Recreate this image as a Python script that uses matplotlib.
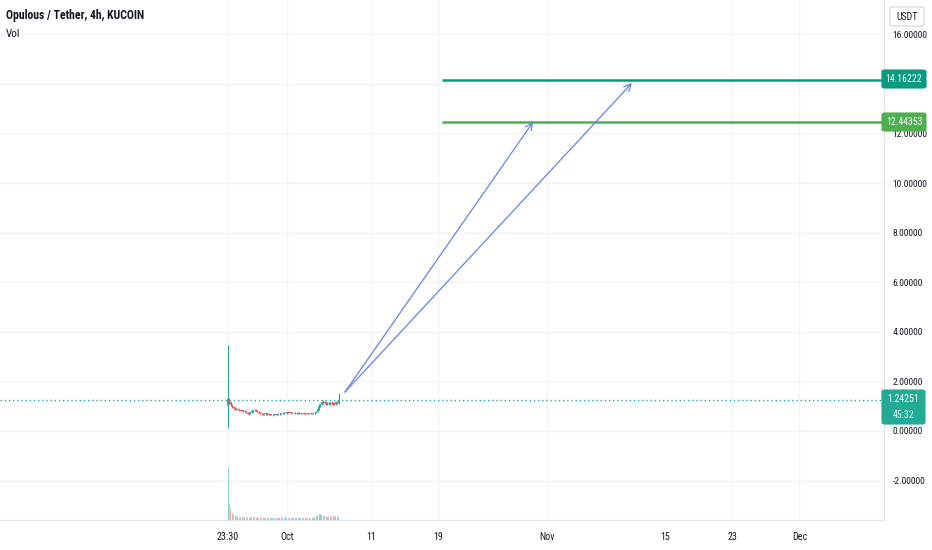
import datetime as dt
import matplotlib
matplotlib.use("Agg")
import matplotlib.pyplot as plt
import matplotlib.dates as mdates
from matplotlib import font_manager
from matplotlib.patches import FancyBboxPatch

# ---------------- data ----------------
start_time = dt.datetime(2021, 9, 23, 23, 30)
opens = [1.00, 1.30, 1.15, 1.05, 0.96, 0.92, 0.88, 0.90, 0.85, 0.84,
         0.81, 0.84, 0.80, 0.79, 0.74, 0.70, 0.72, 0.76, 0.80, 0.84,
         0.86, 0.82, 0.78, 0.74, 0.70, 0.67, 0.69, 0.68, 0.71, 0.67,
         0.66, 0.68, 0.65, 0.66, 0.67, 0.66, 0.69, 0.68, 0.70, 0.72,
         0.71, 0.74, 0.73, 0.76, 0.74, 0.75, 0.73, 0.74, 0.72, 0.73,
         0.71, 0.72, 0.70, 0.71, 0.72, 0.70, 0.72, 0.71, 0.70, 0.72,
         0.71, 0.73, 0.72, 0.74, 0.78, 0.88, 1.00, 1.08, 1.18, 1.12,
         1.16, 1.08, 1.12, 1.09, 1.14, 1.08, 1.12, 1.07, 1.15, 1.13]
highs = [3.47, 1.32, 1.18, 1.08, 1.00, 0.95, 0.92, 0.93, 0.88, 0.87,
         0.86, 0.86, 0.83, 0.81, 0.77, 0.74, 0.78, 0.82, 0.86, 0.90,
         0.89, 0.84, 0.80, 0.76, 0.73, 0.71, 0.72, 0.72, 0.73, 0.70,
         0.69, 0.70, 0.68, 0.69, 0.70, 0.70, 0.72, 0.71, 0.74, 0.76,
         0.75, 0.78, 0.77, 0.79, 0.77, 0.78, 0.76, 0.77, 0.75, 0.76,
         0.74, 0.75, 0.73, 0.74, 0.75, 0.73, 0.74, 0.74, 0.73, 0.75,
         0.74, 0.76, 0.75, 0.80, 0.90, 1.02, 1.12, 1.22, 1.24, 1.20,
         1.20, 1.16, 1.18, 1.17, 1.19, 1.14, 1.16, 1.18, 1.20, 1.52]
lows = [0.12, 1.10, 1.00, 0.92, 0.88, 0.85, 0.84, 0.83, 0.80, 0.79,
        0.79, 0.78, 0.76, 0.72, 0.68, 0.66, 0.70, 0.74, 0.78, 0.82,
        0.80, 0.76, 0.72, 0.68, 0.65, 0.64, 0.66, 0.66, 0.66, 0.64,
        0.63, 0.64, 0.62, 0.63, 0.64, 0.64, 0.66, 0.65, 0.68, 0.69,
        0.68, 0.71, 0.70, 0.72, 0.71, 0.72, 0.70, 0.71, 0.69, 0.70,
        0.68, 0.69, 0.67, 0.68, 0.69, 0.67, 0.69, 0.68, 0.67, 0.69,
        0.68, 0.70, 0.70, 0.72, 0.76, 0.86, 0.97, 1.05, 1.10, 1.08,
        1.06, 1.04, 1.06, 1.05, 1.06, 1.03, 1.05, 1.04, 1.10, 1.10]
closes = [1.30, 1.15, 1.05, 0.96, 0.92, 0.88, 0.90, 0.85, 0.84, 0.81,
          0.84, 0.80, 0.79, 0.74, 0.70, 0.72, 0.76, 0.80, 0.84, 0.86,
          0.82, 0.78, 0.74, 0.70, 0.67, 0.69, 0.68, 0.71, 0.67, 0.66,
          0.68, 0.65, 0.66, 0.67, 0.66, 0.69, 0.68, 0.70, 0.72, 0.71,
          0.74, 0.73, 0.76, 0.74, 0.75, 0.73, 0.74, 0.72, 0.73, 0.71,
          0.72, 0.70, 0.71, 0.72, 0.70, 0.72, 0.71, 0.70, 0.72, 0.71,
          0.73, 0.72, 0.74, 0.78, 0.88, 1.00, 1.08, 1.18, 1.12, 1.16,
          1.08, 1.12, 1.09, 1.14, 1.08, 1.12, 1.07, 1.15, 1.13, 1.24]
volumes = [100, 30, 22, 14, 10, 8, 7, 6, 5, 6,
           5, 4, 5, 4, 6, 5, 4, 5, 6, 5,
           4, 4, 3, 4, 5, 3, 4, 3, 4, 3,
           4, 3, 4, 3, 3, 4, 3, 4, 5, 3,
           4, 6, 4, 3, 4, 3, 4, 3, 3, 4,
           3, 4, 3, 3, 4, 3, 4, 3, 4, 3,
           4, 3, 5, 7, 9, 11, 12, 9, 8, 7,
           8, 6, 7, 6, 8, 7, 6, 8, 7, 6]

last_price = 1.24251
target_levels = [14.16222, 12.44353]
target_colors = ["#089981", "#4caf50"]
level_start = dt.datetime(2021, 10, 19, 12, 0)
arrow_start = (dt.datetime(2021, 10, 7, 21, 30), 1.57)
arrow_ends = [(dt.datetime(2021, 10, 30, 7, 0), 12.46),
              (dt.datetime(2021, 11, 11, 1, 30), 14.03)]
grid_values = [-2, 0, 2, 4, 6, 8, 10, 12, 14, 16]
y_ticks = [-2, 0, 2, 4, 6, 8, 10, 12, 16]
x_tick_dates = [dt.datetime(2021, 9, 23, 23, 30), dt.datetime(2021, 10, 1),
                dt.datetime(2021, 10, 11), dt.datetime(2021, 10, 19),
                dt.datetime(2021, 11, 1), dt.datetime(2021, 11, 15),
                dt.datetime(2021, 11, 23), dt.datetime(2021, 12, 1)]
x_tick_labels = ["23:30", "Oct", "11", "19", "Nov", "15", "23", "Dec"]
title = "Opulous / Tether, 4h, KUCOIN"

# ---------------- style ----------------
names = {f.name for f in font_manager.fontManager.ttflist}
narrow = next((n for n in ["Liberation Sans Narrow", "DejaVu Sans Condensed",
                           "Roboto Condensed", "Liberation Sans"] if n in names),
              "DejaVu Sans")
plt.rcParams["font.family"] = [narrow, "DejaVu Sans"]
TXT = "#131722"
UP, DOWN = "#26a69a", "#ef5350"
GRID = "#f0f2f5"

W, H = 932, 550
fig = plt.figure(figsize=(W / 100, H / 100), dpi=100)
fig.patch.set_facecolor("white")
ax = fig.add_axes([0, 30 / H, 884 / W, 520 / H])

times = [start_time + dt.timedelta(hours=4 * i) for i in range(len(closes))]
tn = mdates.date2num(times)
oct1 = mdates.date2num(dt.datetime(2021, 10, 1))
ax.set_xlim(oct1 - 34.17, oct1 + 71.07)
ax.set_ylim(-3.59, 17.38)

# grid
for d in [0, 1, 2, 3, 4, 6, 7]:
    ax.axvline(mdates.date2num(x_tick_dates[d]), color=GRID, lw=1, zorder=0)
for v in grid_values:
    ax.axhline(v, color=GRID, lw=1, zorder=0)

# candles
cols = [UP if c >= o else DOWN for o, c in zip(opens, closes)]
ax.vlines(tn, lows, highs, colors=cols, lw=0.8, zorder=3)
ax.vlines(tn, [min(o, c) for o, c in zip(opens, closes)],
          [max(o, c) for o, c in zip(opens, closes)], colors=cols, lw=1.2, zorder=3)

# last price dotted line
ax.axhline(last_price, color=UP, lw=1, ls=(0, (1, 2)), zorder=2)

# target levels
x0 = mdates.date2num(level_start)
for lv, c in zip(target_levels, target_colors):
    ax.hlines(lv, x0, oct1 + 72, colors=c, lw=1.8, zorder=4)

# arrows
for (xe, ye) in arrow_ends:
    ax.annotate("", xy=(mdates.date2num(xe), ye),
                xytext=(mdates.date2num(arrow_start[0]), arrow_start[1]),
                arrowprops=dict(arrowstyle="->,head_length=0.5,head_width=0.25",
                                color="#6482e8", lw=0.9, shrinkA=0, shrinkB=0),
                zorder=5)

# axes styling
for s in ["top", "left"]:
    ax.spines[s].set_visible(False)
ax.spines["right"].set_color("#e0e3eb")
ax.spines["bottom"].set_color("#e0e3eb")
ax.yaxis.tick_right()
ax.set_yticks(y_ticks)
ax.set_yticklabels([f"{v:.5f}" for v in y_ticks])
ax.tick_params(axis="y", length=0, pad=6, labelsize=6.8, labelcolor=TXT)
ax.set_xticks(mdates.date2num(x_tick_dates))
ax.set_xticklabels(x_tick_labels)
ax.tick_params(axis="x", length=0, pad=9, labelsize=7.2, labelcolor=TXT)
for lab in ax.get_yticklabels():
    lab.set_horizontalalignment("left")

# volume overlay
axv = fig.add_axes([0, 30 / H, 884 / W, 520 / H], sharex=ax)
axv.patch.set_visible(False)
axv.axis("off")
axv.set_ylim(0, 1000)
vcols = ["#8fd3cc" if c >= o else "#f7b0ae" for o, c in zip(opens, closes)]
axv.bar(tn, volumes, width=0.12, color=vcols, linewidth=0)
axv.set_xlim(oct1 - 34.17, oct1 + 71.07)

# ---------------- figure overlays ----------------
def fx(px):
    return px / W

def fy(py):
    return 1 - py / H

def box(x0p, y0p, x1p, y1p, fc, ec=None):
    p = FancyBboxPatch((fx(x0p), fy(y1p)), fx(x1p) - fx(x0p), fy(y0p) - fy(y1p),
                       boxstyle="round,pad=0,rounding_size=0.003",
                       transform=fig.transFigure, facecolor=fc,
                       edgecolor=ec if ec else fc, lw=0.8, zorder=5)
    fig.patches.append(p)

fig.text(fx(6), fy(15), title, fontsize=8.5, fontweight="bold", color=TXT,
         va="center", ha="left")
fig.text(fx(6), fy(34), "Vol", fontsize=8, color=TXT, va="center", ha="left")

box(890, 7, 924, 26, "white", "#d1d4dc")
fig.text(fx(907), fy(16.5), "USDT", fontsize=7, color=TXT, ha="center", va="center",
         zorder=6)

for lv, c, (yt, yb) in zip(target_levels, target_colors, [(70, 88), (113, 131)]):
    box(882, yt, 926, yb, c)
    fig.text(fx(904), fy((yt + yb) / 2), f"{lv:.5f}", fontsize=7, color="white",
             ha="center", va="center", zorder=6)

box(882, 390, 925, 424, "#22ab94")
fig.text(fx(903.5), fy(399.5), f"{last_price:.5f}", fontsize=7, color="white",
         ha="center", va="center", zorder=6)
fig.text(fx(903.5), fy(415), "45:32", fontsize=7, color="#d9f2ee",
         ha="center", va="center", zorder=6)

fig.savefig("out.png", dpi=100, facecolor="white")
